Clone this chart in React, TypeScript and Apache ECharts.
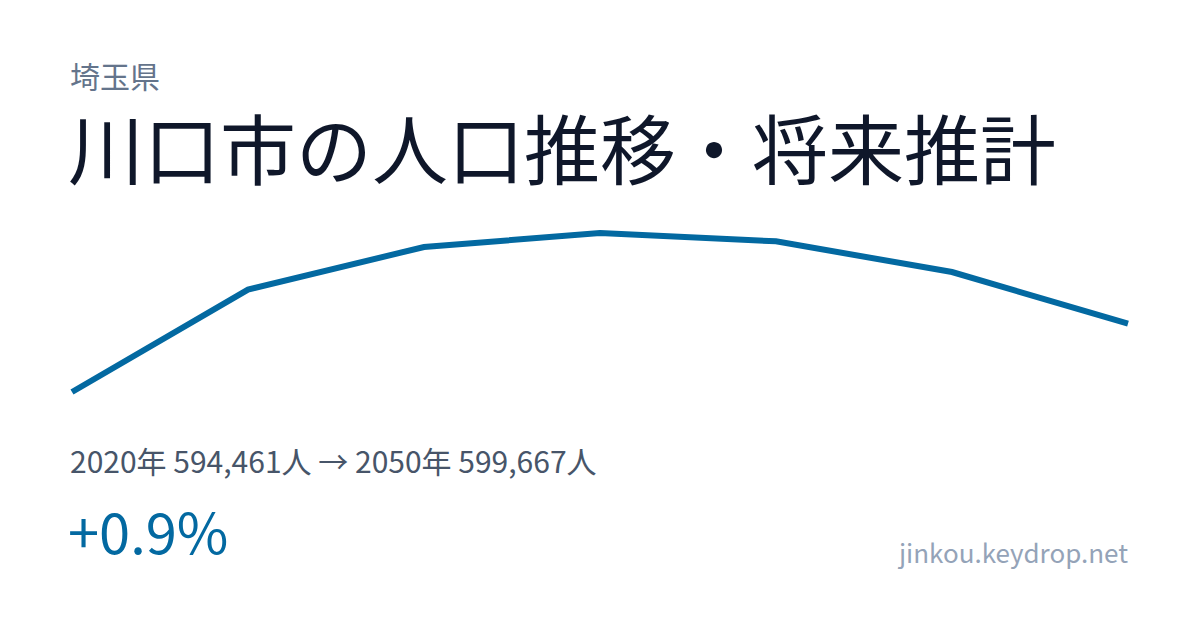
import React, { useEffect, useRef } from "react";
import * as echarts from "echarts";

const years = ["2020", "2025", "2030", "2035", "2040", "2045", "2050"];
const population = [594461, 602254, 605496, 606561, 605929, 603593, 599667];

const prefecture = "埼玉県";
const title = "川口市の人口推移・将来推計";
const summary = "2020年 594,461人 → 2050年 599,667人";
const change = "+0.9%";
const site = "jinkou.keydrop.net";

const FONT = '"Noto Sans CJK JP", "Noto Sans", sans-serif';

export default function App() {
  const ref = useRef<HTMLDivElement>(null);
  useEffect(() => {
    document.body.style.margin = "0";
    const chart = echarts.init(ref.current!, null, { renderer: "svg" });
    chart.setOption({
      animation: false,
      backgroundColor: "#ffffff",
      grid: { left: 72, right: 72, top: 233, bottom: 238 },
      xAxis: {
        type: "category",
        data: years,
        boundaryGap: false,
        show: false,
      },
      yAxis: {
        type: "value",
        min: "dataMin",
        max: "dataMax",
        show: false,
        splitLine: { show: false },
      },
      series: [
        {
          type: "line",
          data: population,
          symbol: "none",
          lineStyle: { color: "#0369a1", width: 6, cap: "butt", join: "miter" },
        },
      ],
      graphic: [
        {
          type: "text",
          left: 70,
          top: 60,
          style: {
            text: prefecture,
            font: `400 30px ${FONT}`,
            lineHeight: 30,
            fill: "#64748b",
          },
        },
        {
          type: "text",
          left: 68,
          top: 108,
          style: {
            text: title,
            font: `400 76px ${FONT}`,
            lineHeight: 76,
            fill: "#0f172a",
          },
        },
        {
          type: "text",
          left: 70,
          top: 445,
          style: { text: summary, font: `400 30px ${FONT}`, lineHeight: 30, fill: "#475569" },
        },
        {
          type: "text",
          left: 68,
          top: 501,
          style: { text: change, font: `400 56px ${FONT}`, lineHeight: 56, fill: "#0369a1" },
        },
        {
          type: "text",
          right: 72,
          top: 538,
          style: { text: site, font: `400 26px ${FONT}`, lineHeight: 26, fill: "#94a3b8" },
        },
      ],
    });
    return () => chart.dispose();
  }, []);
  return (
    <div
      ref={ref}
      style={{ position: "fixed", left: 0, top: 0, width: 1200, height: 630 }}
    />
  );
}
